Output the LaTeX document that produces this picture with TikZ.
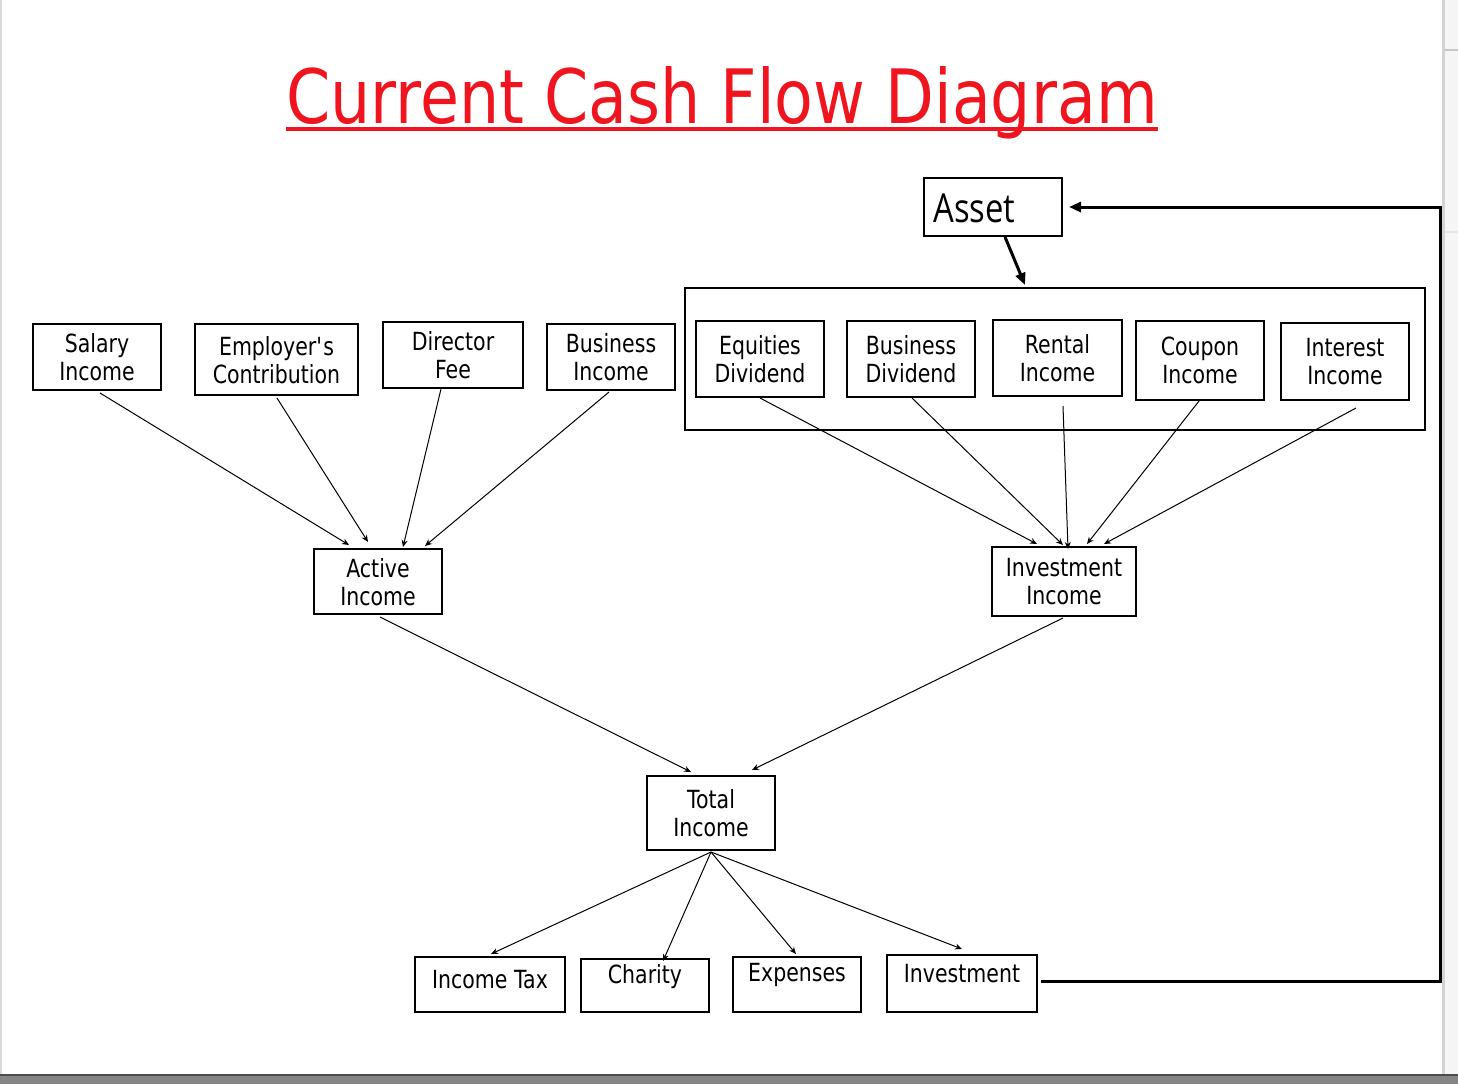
\documentclass[tikz,border=0pt]{standalone}
\usepackage{fontspec}
\setmainfont{DejaVu Sans}[FakeStretch=0.82]
\newfontfamily\titlefont{DejaVu Sans}[FakeStretch=0.845]
\newfontfamily\assetfont{Open Sans}[FakeStretch=0.82]
\usetikzlibrary{calc,arrows.meta}
\definecolor{titlered}{HTML}{F0141E}
\tikzset{
  box/.style={draw=black, line width=1pt, inner sep=0pt, align=center,
    font=\fontsize{12.5}{14}\selectfont, text depth=-3pt},
  plainbox/.style={draw=black, line width=1pt, inner sep=0pt},
  lbl/.style={inner sep=0pt, align=center, font=\fontsize{12.5}{14}\selectfont},
  thin/.style={line width=0.5pt, -{Stealth[length=3.5pt,width=3pt]}},
  thickarr/.style={line width=1.5pt, -{Triangle[length=6pt,width=5pt]}}
}
\begin{document}
\begin{tikzpicture}[x=0.5pt,y=-0.5pt]
\useasboundingbox (0,0) rectangle (1458,1084);
% screen frame
\fill[white] (0,0) rectangle (1458,1084);
\fill[black!15] (0,0) rectangle (2,1076);
\fill[black!4] (1445,0) rectangle (1458,1076);
\fill[black!17] (1442,0) rectangle (1445,1076);
\fill[black!22] (1445,49) rectangle (1458,51);
\fill[black!10] (1445,231) rectangle (1458,233);
\fill[black!48] (0,1075) rectangle (1458,1084);
\fill[black!70] (0,1074) rectangle (1458,1076);

% title
\node[inner sep=0pt, anchor=base, text=titlered, font=\titlefont\fontsize{37.5}{40}\selectfont] (title) at (722,123)
  {Current Cash Flow Diagram};
\draw[titlered, line width=1.6pt] ($(title.base west)+(0,6)$) -- ($(title.base east)+(0,6)$);

% asset
\node[plainbox, minimum width=69pt, minimum height=29pt] (asset) at (993,207) {};
\node[inner sep=0pt, anchor=west, font=\assetfont\fontsize{20}{22}\selectfont] (assetl) at (933,208) {Asset};

% active income sources
\node[box, minimum width=64pt, minimum height=33pt] (sal) at (97,357) {Salary\\Income};
\node[box, minimum width=81.5pt, minimum height=35.5pt] (emp) at (276.5,359.5) {Employer\textquotesingle s\\Contribution};
\node[box, minimum width=70pt, minimum height=33pt] (dir) at (453,355) {Director\\Fee};
\node[box, minimum width=64pt, minimum height=33pt] (bus) at (611,357) {Business\\Income};

% investment group
\node[plainbox, minimum width=370pt, minimum height=71pt] (outer) at (1055,359) {};
\node[box, minimum width=64pt, minimum height=38pt] (eq) at (760,359) {Equities\\Dividend};
\node[box, minimum width=64pt, minimum height=38pt] (bd) at (911,359) {Business\\Dividend};
\node[box, minimum width=64.5pt, minimum height=38pt] (ren) at (1057.5,358) {Rental\\Income};
\node[box, minimum width=64pt, minimum height=39.5pt] (cou) at (1200,360.5) {Coupon\\Income};
\node[box, minimum width=64pt, minimum height=38.5pt] (int) at (1345,361.5) {Interest\\Income};

% middle
\node[box, minimum width=64pt, minimum height=32.5pt] (act) at (378,581.5) {Active\\Income};
\node[box, minimum width=72pt, minimum height=34.5pt] (inv) at (1064,581.5) {Investment\\Income};
\node[box, minimum width=64pt, minimum height=37pt] (tot) at (711,813) {Total\\Income};

% bottom
\node[plainbox, minimum width=75pt, minimum height=27.5pt] (tax) at (490,984.5) {};
\node[lbl] (taxl) at (490,980) {Income Tax};
\node[plainbox, minimum width=64pt, minimum height=26.5pt] (cha) at (645,985.5) {};
\node[lbl] (chal) at (645,977) {Charity};
\node[plainbox, minimum width=64pt, minimum height=27.5pt] (exp) at (797,984.5) {};
\node[lbl] (expl) at (797,975) {Expenses};
\node[plainbox, minimum width=75pt, minimum height=28.5pt] (invt) at (962,983.5) {};
\node[lbl] (invtl) at (962,974) {Investment};

% connectors to active income
\draw[thin] ($(sal.south)+(3,2)$) -- ($(act.north)+(-29,-3)$);
\draw[thin] ($(emp.south)+(0.5,2)$) -- ($(act.north)+(-10,-6)$);
\draw[thin] ($(dir.south)+(-12,0)$) -- ($(act.north)+(25,-1)$);
\draw[thin] ($(bus.south)+(-2,1)$) -- ($(act.north)+(47,-2)$);

% connectors to investment income
\draw[thin] (eq.south) -- ($(inv.north)+(-27,-2)$);
\draw[thin] ($(bd.south)+(1,0)$) -- ($(inv.north)+(-1,-1)$);
\draw[thin] ($(ren.south)+(5.5,9)$) -- ($(inv.north)+(4,3)$);
\draw[thin] ($(cou.south)+(-1,0)$) -- ($(inv.north)+(23,-2)$);
\draw[thin] ($(int.south)+(11,7)$) -- ($(inv.north)+(40,-2)$);

% to total
\draw[thin] ($(act.south)+(2,2)$) -- ($(tot.north)+(-20,-3)$);
\draw[thin] ($(inv.south)+(-1,1)$) -- ($(tot.north)+(41,-5)$);

% from total
\draw[thin] ($(tot.south)+(0,1)$) -- ($(tax.north)+(1,-2)$);
\draw[thin] ($(tot.south)+(0,1)$) -- ($(cha.north)+(18,3)$);
\draw[thin] ($(tot.south)+(0,1)$) -- ($(exp.north)+(-1,-2)$);
\draw[thin] ($(tot.south)+(0,1)$) -- ($(invt.north)+(0,-5)$);

% asset flows
\draw[thickarr] ($(asset.south)+(12,0)$) -- ($(outer.north)+(-30,-2)$);
\coordinate (c1) at (1440,981);
\coordinate (c2) at (1440,207);
\draw[thickarr] ($(invt.east)+(3,-2.5)$) -- (c1) -- (c2) -- ($(asset.east)+(6,0)$);
\end{tikzpicture}
\end{document}
